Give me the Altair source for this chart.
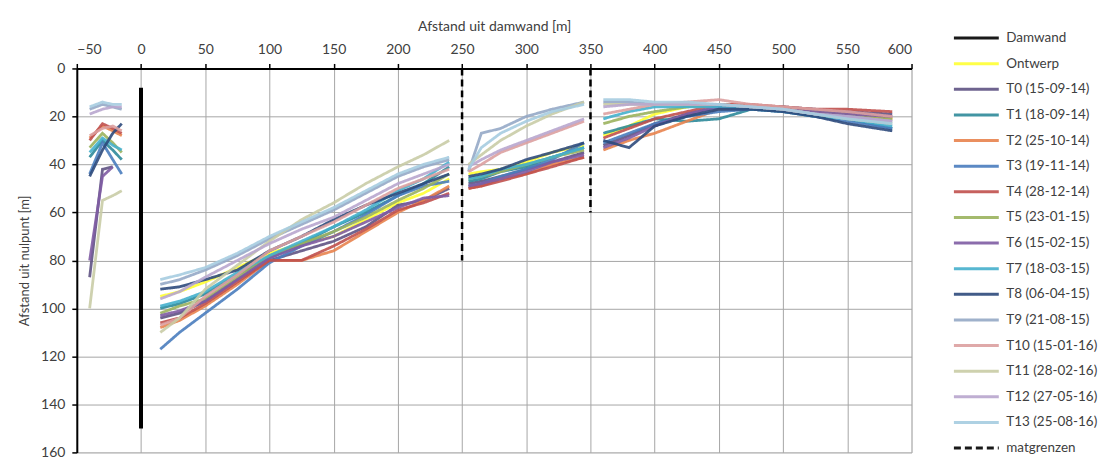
import altair as alt
import pandas as pd

# ---------------- data ----------------
SERIES = ["Damwand", "Ontwerp", "T0 (15-09-14)", "T1 (18-09-14)", "T2 (25-10-14)",
          "T3 (19-11-14)", "T4 (28-12-14)", "T5 (23-01-15)", "T6 (15-02-15)",
          "T7 (18-03-15)", "T8 (06-04-15)", "T9 (21-08-15)", "T10 (15-01-16)",
          "T11 (28-02-16)", "T12 (27-05-16)", "T13 (25-08-16)", "matgrenzen"]
COLORS = ["#000000", "#FFFF33", "#5F5383", "#2E8A9A", "#E8834E", "#4A7DBE",
          "#C0504D", "#9BB35E", "#7F5CA3", "#45B0CC", "#2D4A7C", "#95A9C6",
          "#DCA0A0", "#C9CCA6", "#B8A6CE", "#A6CCE0", "#000000"]
SHORT = ["Ontwerp", "T0", "T1", "T2", "T3", "T4", "T5", "T6", "T7", "T8",
         "T9", "T10", "T11", "T12", "T13"]

DAMWAND_X = [0, 0]
DAMWAND_Y = [8, 150]
MATGRENS_X = [250, 350]
MATGRENS_Y_END = [80, 60]

# left segment (x -40 .. -15)
L_X = [-40, -30, -22, -15]
L_Y = {
    "T0": [87, 42, 41, None],
    "T1": [37, 30, 34, 38],
    "T2": [29, 24, 26, 28],
    "T3": [44, 31, 38, 44],
    "T4": [30, 23, 25, 27],
    "T5": [33, 27, 31, 35],
    "T6": [80, 45, 41, None],
    "T7": [35, 29, 32, 34],
    "T8": [45, 34, 27, 23],
    "T9": [17, 15, 16, 17],
    "T10": [28, 25, 24, 26],
    "T11": [100, 55, 53, 51],
    "T12": [19, 17, 16, 16],
    "T13": [16, 14, 15, 15],
}

# segment 1 (x 15 .. 240)
S1_X = [15, 30, 50, 75, 100, 125, 150, 175, 200, 220, 240]
S1_Y = {
    "Ontwerp": [95, 93, 89, 83, 77, 73, 70, 63, 56, 52, 46],
    "T0": [104, 102, 97, 88, 80, 76, 72, 66, 57, 55, 50],
    "T1": [100, 98, 94, 86, 79, 73, 66, 60, 53, 48, 41],
    "T2": [108, 105, 99, 90, 80, 80, 76, 68, 60, 55, 49],
    "T3": [117, 110, 102, 92, 81, 74, 68, 61, 53, 49, 47],
    "T4": [106, 104, 98, 89, 80, 80, 74, 67, 59, 56, 52],
    "T5": [102, 99, 96, 87, 78, 73, 68, 62, 55, 50, 44],
    "T6": [103, 101, 97, 88, 79, 74, 70, 64, 58, 54, 53],
    "T7": [99, 97, 93, 85, 78, 72, 66, 59, 51, 46, 39],
    "T8": [92, 91, 88, 84, 76, 70, 63, 57, 52, 48, 44],
    "T9": [90, 88, 84, 78, 71, 65, 59, 52, 45, 41, 38],
    "T10": [107, 104, 95, 86, 76, 70, 64, 57, 50, 46, 42],
    "T11": [110, 104, 92, 82, 72, 63, 56, 48, 41, 36, 30],
    "T12": [96, 93, 87, 80, 73, 67, 62, 55, 48, 44, 40],
    "T13": [88, 86, 83, 77, 70, 64, 58, 51, 44, 40, 37],
}

# segment 2 (x 255 .. 345)
S2_X = [255, 265, 280, 300, 320, 345]
S2_Y = {
    "Ontwerp": [44, 43, 42, 39, 35, 32],
    "T0": [48, 47, 45, 42, 39, 35],
    "T1": [47, 46, 43, 41, 37, 33],
    "T2": [50, 49, 46, 44, 40, 37],
    "T3": [49, 48, 45, 42, 38, 31],
    "T4": [50, 49, 47, 44, 41, 37],
    "T5": [46, 45, 43, 40, 37, 34],
    "T6": [49, 48, 46, 43, 39, 36],
    "T7": [46, 45, 42, 40, 37, 33],
    "T8": [45, 44, 42, 38, 35, 31],
    "T9": [43, 27, 25, 20, 17, 14],
    "T10": [43, 40, 35, 31, 27, 22],
    "T11": [40, 36, 30, 24, 19, 14],
    "T12": [41, 38, 34, 30, 26, 21],
    "T13": [42, 33, 27, 22, 18, 15],
}

# segment 3 (x 360 .. 585)
S3_X = [360, 380, 400, 425, 450, 475, 500, 525, 550, 585]
S3_Y = {
    "Ontwerp": [28, 24, 19, 16, 15, 16, 17, 18, 19, 21],
    "T0": [32, 28, 23, 19, 16, 16, 16, 17, 18, 19],
    "T1": [27, 24, 21, 22, 21, 17, 17, 19, 21, 25],
    "T2": [34, 30, 27, 22, 17, 16, 17, 18, 19, 21],
    "T3": [31, 27, 23, 20, 18, 17, 18, 20, 22, 25],
    "T4": [29, 25, 21, 18, 15, 15, 16, 17, 17, 18],
    "T5": [23, 20, 18, 16, 15, 16, 17, 18, 19, 21],
    "T6": [33, 29, 24, 19, 16, 16, 17, 18, 19, 20],
    "T7": [21, 18, 16, 16, 16, 17, 18, 20, 21, 24],
    "T8": [30, 33, 24, 20, 17, 17, 18, 20, 23, 26],
    "T9": [14, 14, 15, 15, 15, 16, 17, 19, 20, 22],
    "T10": [19, 17, 15, 14, 13, 15, 16, 17, 18, 20],
    "T11": [15, 15, 15, 15, 15, 16, 17, 19, 21, 23],
    "T12": [16, 15, 15, 15, 15, 16, 17, 19, 20, 22],
    "T13": [13, 13, 14, 14, 15, 16, 17, 19, 21, 23],
}

# ---------------- table ----------------
full = dict(zip(SHORT, SERIES[1:16]))
rows = []
for si, short in enumerate(SHORT):
    for seg, (xs, ys) in enumerate([(L_X, L_Y), (S1_X, S1_Y), (S2_X, S2_Y), (S3_X, S3_Y)]):
        if short not in ys:
            continue
        for x, y in zip(xs, ys[short]):
            if y is None:
                continue
            rows.append({"series": full[short], "grp": f"{si:02d}_{seg}", "x": x, "y": y, "kind": "meting"})
for x, y in zip(DAMWAND_X, DAMWAND_Y):
    rows.append({"series": "Damwand", "grp": "dw", "x": x, "y": y, "kind": "damwand"})
for i, (x, yend) in enumerate(zip(MATGRENS_X, MATGRENS_Y_END)):
    rows.append({"series": "matgrenzen", "grp": f"mg{i}", "x": x, "y": 0, "kind": "mat"})
    rows.append({"series": "matgrenzen", "grp": f"mg{i}", "x": x, "y": yend, "kind": "mat"})
df = pd.DataFrame(rows)

FONT = "Lato"
TXT = "#404040"
GRID = "#A6A6A6"

DASHES = [[1, 0]] * 16 + [[7, 4]]

legend = alt.Legend(
    title=None, orient="none", legendX=878, legendY=-38,
    symbolType="stroke", symbolSize=2025, symbolStrokeWidth=3,
    clipHeight=15, rowPadding=10.7, labelOffset=6, padding=0,
    labelFont=FONT, labelFontSize=13.5, labelColor=TXT,
)

xenc = alt.X("x:Q", scale=alt.Scale(domain=[-50, 600], nice=False),
             axis=alt.Axis(orient="top", values=list(range(-50, 601, 50)),
                           title="Afstand uit damwand [m]", grid=True, gridColor=GRID,
                           gridWidth=1, domainColor="black", domainWidth=2,
                           tickColor="black", tickSize=5, tickWidth=1.5,
                           labelPadding=7, titlePadding=9,
                           labelFont=FONT, labelFontSize=14, labelColor=TXT,
                           titleFont=FONT, titleFontSize=14, titleColor=TXT,
                           titleFontWeight="normal"))
yenc = alt.Y("y:Q", scale=alt.Scale(domain=[0, 160], nice=False, reverse=True),
             axis=alt.Axis(values=list(range(0, 161, 20)),
                           title="Afstand uit nulpunt [m]", grid=True, gridColor=GRID,
                           gridWidth=1, domainColor="black", domainWidth=2,
                           tickColor="black", tickSize=5, tickWidth=1.5,
                           labelPadding=7, titlePadding=9,
                           labelFont=FONT, labelFontSize=14, labelColor=TXT,
                           titleFont=FONT, titleFontSize=13, titleColor=TXT,
                           titleFontWeight="normal"))
color = alt.Color("series:N", scale=alt.Scale(domain=SERIES, range=COLORS), legend=legend)
dash = alt.StrokeDash("series:N", scale=alt.Scale(domain=SERIES, range=DASHES), legend=legend)

base = alt.Chart(df).encode(x=xenc, y=yenc, color=color, strokeDash=dash, detail="grp:N")

meting = base.transform_filter(alt.datum.kind == "meting").mark_line(strokeWidth=2.8, opacity=0.9)
damwand = base.transform_filter(alt.datum.kind == "damwand").mark_line(strokeWidth=4)
mat = base.transform_filter(alt.datum.kind == "mat").mark_line(strokeWidth=2.5)

chart = alt.layer(meting, damwand, mat).properties(
    width=837, height=385,
    autosize=alt.AutoSizeParams(type="none"),
    padding={"left": 69, "top": 60, "right": 192, "bottom": 7},
).configure_view(stroke=None).configure(background="white")

chart.save("out.html", embed_options={"renderer": "svg", "actions": False})
